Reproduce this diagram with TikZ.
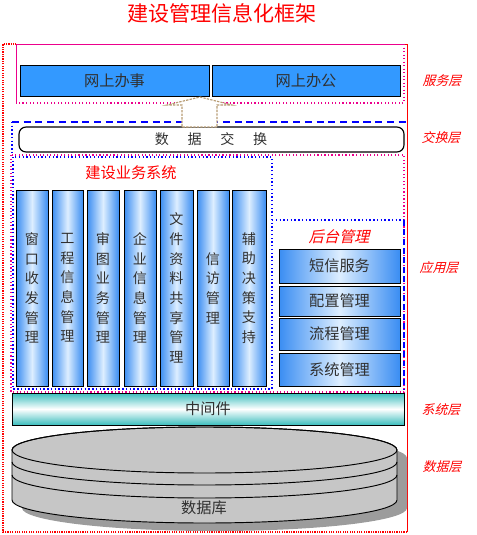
\documentclass[tikz,border=0pt]{standalone}
\usepackage{fontspec}
\setmainfont{Noto Sans CJK SC}
\newfontfamily\slantfont[FakeSlant=0.25]{Noto Sans CJK SC}
\usetikzlibrary{calc}

\definecolor{btnblue}{HTML}{3399FF}
\definecolor{colblue}{HTML}{3A8DF2}
\definecolor{colpale}{HTML}{DDEEFF}
\definecolor{midteal}{HTML}{3CBEBE}
\definecolor{dbgray}{HTML}{C6C6C6}
\definecolor{shadowgray}{HTML}{9C9C9C}
\definecolor{arrowtan}{HTML}{B89C74}
\definecolor{textgray}{HTML}{303030}

\tikzset{
  layerlabel/.style={text=red, font=\slantfont\fontsize{11}{11}\selectfont},
  redtitle/.style={text=red, font=\fontsize{13}{13}\selectfont},
  btnbox/.style={draw=black, line width=0.8pt, fill=btnblue},
  colbox/.style={draw=black, line width=0.8pt, left color=colblue, right color=colblue, middle color=colpale},
  coltext/.style={align=center, text=textgray, font=\fontsize{12}{16.8}\selectfont},
  mgrbox/.style={draw=black, line width=0.8pt, left color=colblue, right color=colblue, middle color=colpale},
  boxtext/.style={text=textgray, font=\fontsize{13}{13}\selectfont},
  bluedots/.style={blue, line width=1.2pt, dotted},
  magdots/.style={magenta, line width=1pt, dotted}
}

\begin{document}
\begin{tikzpicture}[x=0.03cm, y=-0.03cm]
\useasboundingbox (0,0) rectangle (476,535);

% Title
\node[text=red, font=\fontsize{18}{18}\selectfont] (title) at (222,13) {建设管理信息化框架};

% Outer frame
\draw[red, line width=1pt, densely dotted] (407,532) -- (3,532) -- (3,44) -- (16,44);
\draw[red, line width=0.8pt] (16,44) -- (407,44) -- (407,532);

% Service layer
\draw[magenta, line width=0.8pt] (16,103) -- (16,44) -- (404,44);
\draw[magdots] (404,44) -- (404,103) -- (16,103);
\draw[btnbox] (20,65) rectangle +(189,31);
\node[boxtext] (online1) at (114.5,80.5) {网上办事};
\draw[btnbox] (212,65) rectangle +(188,31);
\node[boxtext] (online2) at (306,80.5) {网上办公};
\node[layerlabel] (lay1) at (442,81) {服务层};

% Exchange layer
\draw[blue, line width=1pt, dashed, dash pattern=on 6pt off 4pt] (12,122) -- (407,122);
\draw[bluedots] (12,122) -- (12,155);
\draw[black, line width=1pt, rounded corners=6pt] (19,127) rectangle (404,152);
\node[text=textgray, font=\fontsize{12}{12}\selectfont] (exch) at (211,139.5)
  {数\hspace{16pt}据\hspace{16pt}交\hspace{16pt}换};
\node[layerlabel] (lay2) at (441,138) {交换层};

% Hollow arrow from exchange up to the services
\coordinate (arrowtip) at (200,97);
\draw[arrowtan, line width=1pt, dashed, dash pattern=on 2pt off 1pt, fill=white]
  (arrowtip) -- ++(32,8) -- ++(-15,0) -- ++(0,22) -- ++(-35,0) -- ++(0,-22) -- ++(-15,0) -- cycle;

% Application layer
\draw[magdots] (11,155) rectangle (404,392);
\draw[bluedots] (13,157) rectangle (272,389);
\draw[bluedots] (272,220) -- (404,220);
\draw[blue, line width=1pt, dashed, dash pattern=on 5pt off 3pt] (404,220) -- (404,389);
\node[redtitle] (bizsys) at (131,173) {建设业务系统};
\node[layerlabel] (lay3) at (439,268) {应用层};

% Business columns
\draw[colbox] (16,190) rectangle +(32,196);
\node[coltext] (col1) at (32,288) {窗\\口\\收\\发\\管\\理};
\draw[colbox] (52,190) rectangle +(31,196);
\node[coltext] (col2) at (67.5,288) {工\\程\\信\\息\\管\\理};
\draw[colbox] (87,190) rectangle +(32,196);
\node[coltext] (col3) at (103,288) {审\\图\\业\\务\\管\\理};
\draw[colbox] (124,190) rectangle +(32,196);
\node[coltext] (col4) at (140,288) {企\\业\\信\\息\\管\\理};
\draw[colbox] (160,190) rectangle +(33,196);
\node[coltext] (col5) at (176.5,288) {文\\件\\资\\料\\共\\享\\管\\理};
\draw[colbox] (197,190) rectangle +(32,196);
\node[coltext] (col6) at (213,288) {信\\访\\管\\理};
\draw[colbox] (232,190) rectangle +(34,196);
\node[coltext] (col7) at (249,288) {辅\\助\\决\\策\\支\\持};

% Back-office management
\node[text=red, font=\slantfont\fontsize{13}{13}\selectfont] (backoffice) at (339,237) {后台管理};
\draw[mgrbox] (279,249) rectangle +(121,34);
\node[boxtext] (sms) at (339.5,266) {短信服务};
\draw[mgrbox] (279,286) rectangle +(121,30);
\node[boxtext] (config) at (339.5,301) {配置管理};
\draw[mgrbox] (279,318) rectangle +(121,32);
\node[boxtext] (flow) at (339.5,334) {流程管理};
\draw[mgrbox] (279,353) rectangle +(121,33);
\node[boxtext] (sysmgr) at (339.5,369.5) {系统管理};

% System layer
\draw[black, line width=0.8pt, top color=midteal, bottom color=midteal, middle color=white] (12,393) rectangle (404,425);
\node[boxtext] (middleware) at (208,409) {中间件};
\node[layerlabel] (lay4) at (441,410) {系统层};

% Data layer: database cylinder with shadow
\fill[shadowgray] (22,458) arc[start angle=180, end angle=360, x radius=192.5, y radius=23]
  -- (407,508) arc[start angle=0, end angle=180, x radius=192.5, y radius=23] -- cycle;
\filldraw[fill=dbgray, draw=black, line width=0.8pt] (12,450) arc[start angle=180, end angle=360, x radius=192.5, y radius=23]
  -- (397,500) arc[start angle=0, end angle=180, x radius=192.5, y radius=23] -- cycle;
\draw[black, line width=0.8pt] (204.5,450) ellipse[x radius=192.5, y radius=23];
\draw[black, line width=0.8pt] (12,462) arc[start angle=180, end angle=0, x radius=192.5, y radius=23];
\draw[black, line width=0.8pt] (12,475) arc[start angle=180, end angle=0, x radius=192.5, y radius=23];
\node[boxtext] (database) at (204,508) {数据库};
\node[layerlabel] (lay5) at (442,467) {数据层};
\end{tikzpicture}
\end{document}
